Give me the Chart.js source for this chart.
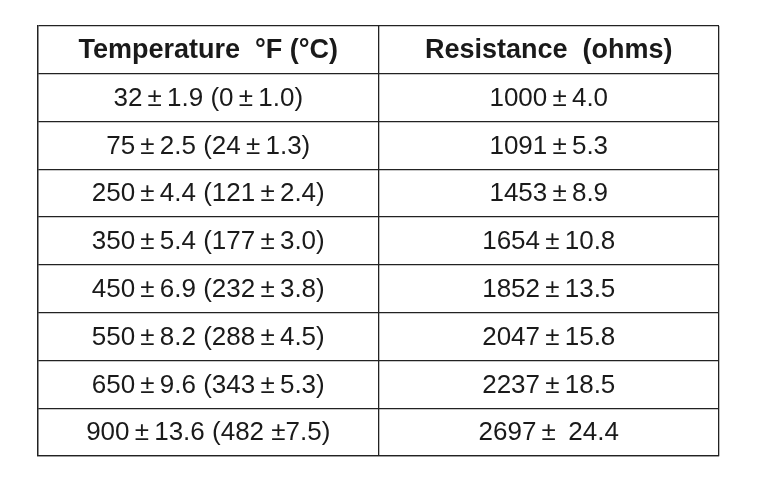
<!DOCTYPE html>
<html><head><meta charset="utf-8">
<script src="https://cdn.jsdelivr.net/npm/chart.js@4"></script>
<style>html,body{margin:0;background:#fff}#w{width:763px;height:484px}</style>
</head><body><div id="w"><canvas id="c"></canvas></div>
<script>
const headers = ["Temperature  °F (°C)", "Resistance  (ohms)"];
const temperatures = ["32 ± 1.9 (0 ± 1.0)","75 ± 2.5 (24 ± 1.3)","250 ± 4.4 (121 ± 2.4)","350 ± 5.4 (177 ± 3.0)","450 ± 6.9 (232 ± 3.8)","550 ± 8.2 (288 ± 4.5)","650 ± 9.6 (343 ± 5.3)","900 ± 13.6 (482 ±7.5)"];
const resistances = ["1000 ± 4.0","1091 ± 5.3","1453 ± 8.9","1654 ± 10.8","1852 ± 13.5","2047 ± 15.8","2237 ± 18.5","2697 ±  24.4"];
const rows = [headers, ...temperatures.map((t,i)=>[t, resistances[i]])];

const textPlugin = {
  id:'cells',
  afterDraw(chart){
    const ctx = chart.ctx, x = chart.scales.x, y = chart.scales.y;
    ctx.save();
    ctx.fillStyle = '#1a1a1a';
    ctx.textAlign = 'center'; ctx.textBaseline = 'middle';
    rows.forEach((r,ri)=>{
      ctx.font = (ri===0 ? 'bold 27px' : '26px') + ' "Liberation Sans", Arial, sans-serif';
      r.forEach((txt,ci)=>{
        const t = ri===0 ? txt : txt.replace(/ ± /g, '\u2009±\u2009');
        ctx.fillText(t, x.getPixelForValue(ci+0.5), y.getPixelForValue(ri+0.5)+1);
      });
    });
    ctx.restore();
  }
};

new Chart(document.getElementById('c'), {
  type:'scatter',
  data:{datasets:[{data:[]}]},
  options:{
    responsive:true, maintainAspectRatio:false, animation:false,
    layout:{padding:{left:38,right:44,top:26,bottom:28}},
    plugins:{legend:{display:false},tooltip:{enabled:false}},
    scales:{
      x:{type:'linear',min:0,max:2,ticks:{display:false,stepSize:1},
         grid:{color:'#222',lineWidth:1.3,drawTicks:false},border:{display:true,color:'#222',width:1.3}},
      y:{type:'linear',min:0,max:9,reverse:true,ticks:{display:false,stepSize:1},
         grid:{color:'#222',lineWidth:1.3,drawTicks:false},border:{display:true,color:'#222',width:1.3}}
    }
  },
  plugins:[textPlugin]
});
</script></body></html>
